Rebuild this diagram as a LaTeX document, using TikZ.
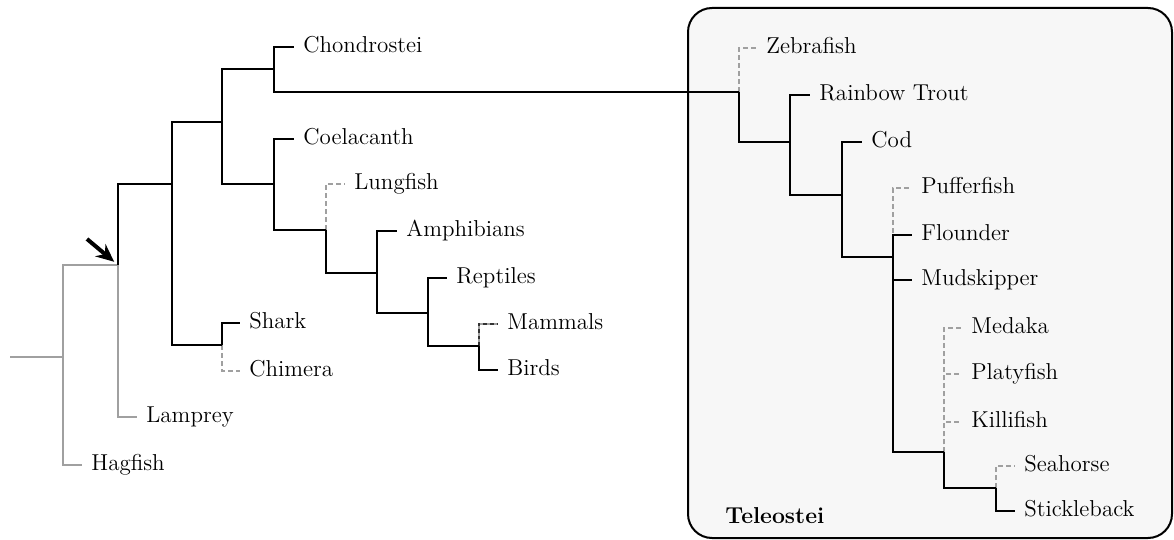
\documentclass[tikz,border=0pt]{standalone}
\usepackage{xcolor}
\usepackage{tikz}
\usetikzlibrary{arrows.meta}
\definecolor{branchgray}{RGB}{160, 160, 160}
\definecolor{boxfill}{RGB}{247, 247, 247}

\begin{document}
\begin{tikzpicture}[
    x=0.5pt, y=-0.5pt,
    taxon/.style={anchor=west, inner sep=4.5pt, text height=1.6ex, text depth=0.3ex,
                 font=\fontsize{11.5}{14}\selectfont},
    branch/.style={line width=1pt, black},
    outgroup/.style={line width=1pt, branchgray},
    missing/.style={line width=0.8pt, branchgray, dash pattern=on 2.5pt off 1.5pt},
    darkmissing/.style={line width=0.8pt, black!80, dash pattern=on 1.8pt off 1.5pt},
    pointer/.style={-{Stealth[length=9pt, width=8pt, inset=3pt]}, line width=2pt, black}
]
    \useasboundingbox (0,0) rectangle (1174,540);

    % Teleostei box
    \draw[line width=1pt, fill=boxfill, rounded corners=12pt] (688,8) rectangle (1172,538);
    \node[taxon, font=\fontsize{11.5}{14}\selectfont\bfseries] (teleo) at (716,518) {Teleostei};

    % Inner nodes
    \coordinate (start) at (10,357);
    \coordinate (c1) at (63,357);
    \coordinate (c2) at (118,265);
    \coordinate (c3) at (172,184);
    \coordinate (c4) at (222,122);
    \coordinate (c5) at (222,345);
    \coordinate (c6) at (274,69);
    \coordinate (c7) at (274,184);
    \coordinate (c8) at (326,230);
    \coordinate (c9) at (377,273);
    \coordinate (c10) at (428,313);
    \coordinate (c11) at (479,346);
    \coordinate (t0) at (739,92);
    \coordinate (t1) at (790,142);
    \coordinate (t2) at (842,195);
    \coordinate (t3) at (893,257);
    \coordinate (t4) at (944,452);
    \coordinate (t5) at (996,488);
    \coordinate (tail) at (87,239);

    % Taxa
    \node[taxon] (hagfish) at (82,465) {Hagfish};
    \node[taxon] (lamprey) at (137,417) {Lamprey};
    \node[taxon] (shark) at (240,323) {Shark};
    \node[taxon] (chimera) at (240,371) {Chimera};
    \node[taxon] (chondro) at (294,47) {Chondrostei};
    \node[taxon] (coel) at (294,139) {Coelacanth};
    \node[taxon] (lungfish) at (345,184) {Lungfish};
    \node[taxon] (amphib) at (397,231) {Amphibians};
    \node[taxon] (reptiles) at (447,278) {Reptiles};
    \node[taxon] (mammals) at (498,324) {Mammals};
    \node[taxon] (birds) at (498,370) {Birds};
    \node[taxon] (zebra) at (757,48) {Zebrafish};
    \node[taxon] (trout) at (810,95) {Rainbow Trout};
    \node[taxon] (cod) at (862,142) {Cod};
    \node[taxon] (puffer) at (912,188) {Pufferfish};
    \node[taxon] (flounder) at (912,235) {Flounder};
    \node[taxon] (mudskip) at (912,280) {Mudskipper};
    \node[taxon] (medaka) at (962,328) {Medaka};
    \node[taxon] (platy) at (962,374) {Platyfish};
    \node[taxon] (killi) at (962,422) {Killifish};
    \node[taxon] (seahorse) at (1015,466) {Seahorse};
    \node[taxon] (stickle) at (1015,511) {Stickleback};

    % Dashed branches (no genome)
    \draw[missing] (c5) |- (chimera.west);
    \draw[missing] (c8) |- (lungfish.west);
    \draw[outgroup, line width=0.8pt] (c11) |- (mammals.west);
    \draw[darkmissing] (c11) |- (mammals.west);
    \draw[missing] (t0) |- (zebra.west);
    \draw[missing] (t3) |- (puffer.west);
    \draw[missing] (t4) |- (medaka.west);
    \draw[missing] (t4) |- (platy.west);
    \draw[missing] (t4) |- (killi.west);
    \draw[missing] (t5) |- (seahorse.west);

    % Outgroup
    \draw[outgroup] (start) -- (c1);
    \draw[outgroup] (c1) |- (hagfish.west);
    \draw[outgroup] (c1) |- (c2);
    \draw[outgroup] (c2) |- (lamprey.west);

    % Vertebrate branches
    \draw[branch] (c2) |- (c3);
    \draw[branch] (c3) |- (c4);
    \draw[branch] (c3) |- (c5);
    \draw[branch] (c5) |- (shark.west);
    \draw[branch] (c4) |- (c6);
    \draw[branch] (c4) |- (c7);
    \draw[branch] (c6) |- (chondro.west);
    \draw[branch] (c6) |- (t0);
    \draw[branch] (c7) |- (coel.west);
    \draw[branch] (c7) |- (c8);
    \draw[branch] (c8) |- (c9);
    \draw[branch] (c9) |- (amphib.west);
    \draw[branch] (c9) |- (c10);
    \draw[branch] (c10) |- (reptiles.west);
    \draw[branch] (c10) |- (c11);
    \draw[branch] (c11) |- (birds.west);

    % Teleost branches
    \draw[branch] (t0) |- (t1);
    \draw[branch] (t1) |- (trout.west);
    \draw[branch] (t1) |- (t2);
    \draw[branch] (t2) |- (cod.west);
    \draw[branch] (t2) |- (t3);
    \draw[branch] (t3) |- (flounder.west);
    \draw[branch] (t3) |- (mudskip.west);
    \draw[branch] (t3) |- (t4);
    \draw[branch] (t4) |- (t5);
    \draw[branch] (t5) |- (stickle.west);

    % Arrow
    \draw[pointer, shorten >=2.5pt] (tail) -- (c2);
\end{tikzpicture}
\end{document}
